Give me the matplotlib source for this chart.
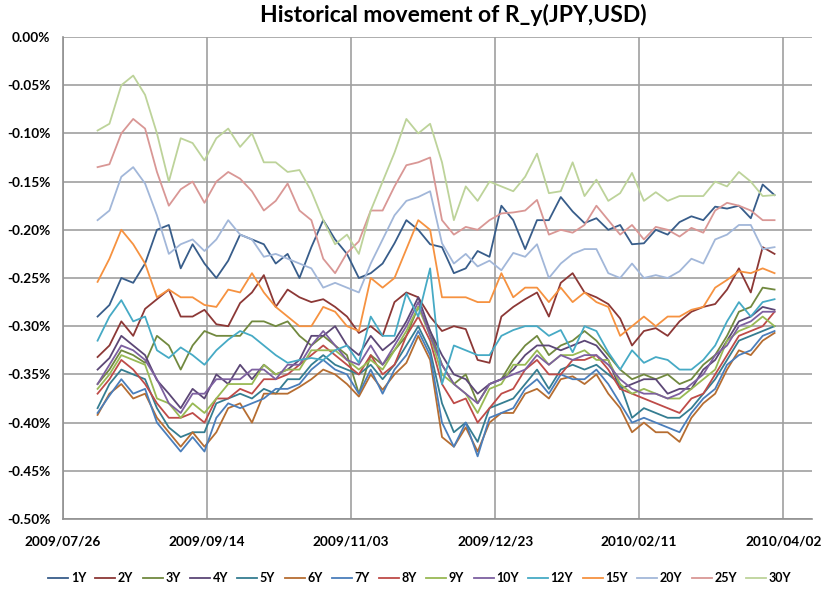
import pandas as pd
import matplotlib
matplotlib.use('Agg')
import matplotlib.pyplot as plt
import matplotlib.dates as mdates
from matplotlib.ticker import FuncFormatter

plt.rcParams['font.family'] = ['Lato', 'DejaVu Sans']
plt.rcParams['font.weight'] = 'bold'

# sampled observations (%), roughly every 4 days from 2009/08/07 to 2010/03/30
start, end = '2009-08-07', '2010-03-30'

y1 = [-0.290, -0.278, -0.250, -0.255, -0.235, -0.200, -0.195, -0.240, -0.215, -0.235,
      -0.250, -0.232, -0.205, -0.210, -0.215, -0.235, -0.225, -0.250, -0.218, -0.190,
      -0.210, -0.225, -0.250, -0.245, -0.235, -0.214, -0.190, -0.200, -0.215, -0.218,
      -0.245, -0.240, -0.222, -0.228, -0.175, -0.190, -0.220, -0.190, -0.190, -0.166,
      -0.181, -0.193, -0.188, -0.200, -0.195, -0.215, -0.214, -0.200, -0.205, -0.192,
      -0.186, -0.190, -0.176, -0.178, -0.175, -0.188, -0.153, -0.164]
y2 = [-0.332, -0.320, -0.295, -0.310, -0.282, -0.272, -0.262, -0.290, -0.290, -0.283,
      -0.298, -0.300, -0.276, -0.265, -0.247, -0.280, -0.262, -0.270, -0.275, -0.272,
      -0.280, -0.290, -0.307, -0.300, -0.310, -0.275, -0.265, -0.270, -0.290, -0.305,
      -0.300, -0.303, -0.335, -0.338, -0.290, -0.280, -0.272, -0.265, -0.290, -0.255,
      -0.245, -0.265, -0.270, -0.277, -0.292, -0.320, -0.305, -0.302, -0.310, -0.295,
      -0.285, -0.280, -0.277, -0.262, -0.240, -0.265, -0.218, -0.225]
y3 = [-0.360, -0.345, -0.325, -0.330, -0.338, -0.310, -0.320, -0.345, -0.320, -0.305,
      -0.310, -0.310, -0.310, -0.295, -0.295, -0.300, -0.295, -0.310, -0.320, -0.310,
      -0.320, -0.330, -0.370, -0.330, -0.340, -0.325, -0.310, -0.280, -0.305, -0.340,
      -0.360, -0.350, -0.380, -0.360, -0.355, -0.335, -0.320, -0.310, -0.330, -0.320,
      -0.315, -0.305, -0.315, -0.330, -0.345, -0.355, -0.350, -0.355, -0.350, -0.360,
      -0.355, -0.340, -0.330, -0.310, -0.285, -0.280, -0.260, -0.262]
y4 = [-0.345, -0.333, -0.310, -0.320, -0.330, -0.356, -0.370, -0.385, -0.365, -0.375,
      -0.350, -0.360, -0.340, -0.355, -0.340, -0.350, -0.345, -0.335, -0.310, -0.310,
      -0.300, -0.320, -0.330, -0.310, -0.325, -0.315, -0.295, -0.270, -0.305, -0.330,
      -0.350, -0.355, -0.370, -0.360, -0.355, -0.345, -0.330, -0.320, -0.320, -0.325,
      -0.320, -0.315, -0.320, -0.335, -0.365, -0.360, -0.355, -0.355, -0.370, -0.365,
      -0.365, -0.345, -0.335, -0.315, -0.295, -0.290, -0.280, -0.283]
y5 = [-0.385, -0.360, -0.345, -0.350, -0.355, -0.385, -0.405, -0.415, -0.410, -0.410,
      -0.380, -0.375, -0.370, -0.375, -0.365, -0.370, -0.355, -0.355, -0.340, -0.330,
      -0.340, -0.345, -0.350, -0.340, -0.355, -0.340, -0.320, -0.300, -0.325, -0.380,
      -0.410, -0.400, -0.420, -0.385, -0.380, -0.375, -0.360, -0.345, -0.365, -0.345,
      -0.340, -0.345, -0.340, -0.350, -0.360, -0.395, -0.385, -0.390, -0.395, -0.395,
      -0.385, -0.370, -0.355, -0.335, -0.315, -0.310, -0.305, -0.300]
y6 = [-0.392, -0.370, -0.360, -0.375, -0.370, -0.395, -0.410, -0.425, -0.410, -0.425,
      -0.410, -0.385, -0.380, -0.400, -0.370, -0.370, -0.370, -0.363, -0.355, -0.345,
      -0.350, -0.360, -0.373, -0.350, -0.366, -0.350, -0.338, -0.310, -0.335, -0.415,
      -0.425, -0.405, -0.430, -0.400, -0.390, -0.390, -0.370, -0.365, -0.375, -0.355,
      -0.352, -0.360, -0.350, -0.370, -0.385, -0.410, -0.400, -0.410, -0.410, -0.420,
      -0.395, -0.380, -0.370, -0.345, -0.325, -0.330, -0.315, -0.307]
y7 = [-0.390, -0.372, -0.355, -0.370, -0.365, -0.400, -0.415, -0.430, -0.415, -0.430,
      -0.395, -0.380, -0.385, -0.380, -0.375, -0.365, -0.365, -0.360, -0.345, -0.335,
      -0.345, -0.350, -0.370, -0.345, -0.370, -0.345, -0.330, -0.305, -0.330, -0.400,
      -0.425, -0.400, -0.435, -0.395, -0.390, -0.385, -0.365, -0.355, -0.370, -0.350,
      -0.355, -0.355, -0.345, -0.360, -0.380, -0.400, -0.395, -0.400, -0.405, -0.410,
      -0.390, -0.375, -0.365, -0.340, -0.330, -0.325, -0.310, -0.305]
y8 = [-0.370, -0.355, -0.335, -0.345, -0.360, -0.380, -0.395, -0.395, -0.390, -0.400,
      -0.375, -0.375, -0.365, -0.370, -0.355, -0.355, -0.350, -0.340, -0.330, -0.320,
      -0.330, -0.340, -0.350, -0.330, -0.350, -0.340, -0.310, -0.290, -0.315, -0.360,
      -0.380, -0.375, -0.400, -0.385, -0.370, -0.365, -0.345, -0.335, -0.350, -0.350,
      -0.335, -0.335, -0.330, -0.345, -0.365, -0.370, -0.375, -0.380, -0.385, -0.390,
      -0.375, -0.370, -0.350, -0.330, -0.310, -0.305, -0.300, -0.285]
y9 = [-0.365, -0.350, -0.330, -0.335, -0.340, -0.375, -0.380, -0.395, -0.380, -0.390,
      -0.375, -0.360, -0.360, -0.360, -0.340, -0.350, -0.345, -0.345, -0.325, -0.325,
      -0.325, -0.335, -0.345, -0.335, -0.345, -0.325, -0.305, -0.280, -0.310, -0.350,
      -0.360, -0.370, -0.390, -0.365, -0.360, -0.340, -0.340, -0.325, -0.340, -0.330,
      -0.330, -0.325, -0.335, -0.335, -0.360, -0.370, -0.365, -0.370, -0.375, -0.375,
      -0.365, -0.355, -0.345, -0.315, -0.305, -0.300, -0.290, -0.300]
y10 = [-0.360, -0.340, -0.320, -0.325, -0.335, -0.355, -0.380, -0.390, -0.370, -0.370,
       -0.355, -0.355, -0.355, -0.345, -0.345, -0.355, -0.340, -0.340, -0.320, -0.305,
       -0.320, -0.335, -0.340, -0.320, -0.340, -0.320, -0.300, -0.275, -0.310, -0.340,
       -0.360, -0.370, -0.380, -0.360, -0.355, -0.350, -0.345, -0.330, -0.340, -0.330,
       -0.335, -0.330, -0.330, -0.340, -0.355, -0.365, -0.370, -0.370, -0.375, -0.370,
       -0.360, -0.350, -0.330, -0.320, -0.300, -0.295, -0.285, -0.285]
y12 = [-0.315, -0.290, -0.273, -0.295, -0.290, -0.325, -0.333, -0.322, -0.330, -0.340,
       -0.325, -0.314, -0.305, -0.310, -0.320, -0.330, -0.338, -0.335, -0.333, -0.335,
       -0.325, -0.320, -0.338, -0.290, -0.310, -0.310, -0.266, -0.290, -0.240, -0.360,
       -0.320, -0.325, -0.330, -0.330, -0.310, -0.304, -0.300, -0.300, -0.310, -0.304,
       -0.327, -0.300, -0.305, -0.327, -0.345, -0.325, -0.338, -0.332, -0.335, -0.345,
       -0.345, -0.335, -0.320, -0.295, -0.275, -0.290, -0.275, -0.272]
y15 = [-0.254, -0.230, -0.200, -0.215, -0.235, -0.270, -0.262, -0.270, -0.270, -0.278,
       -0.280, -0.262, -0.265, -0.245, -0.265, -0.280, -0.290, -0.300, -0.300, -0.280,
       -0.285, -0.300, -0.305, -0.250, -0.260, -0.250, -0.220, -0.190, -0.200, -0.270,
       -0.270, -0.270, -0.275, -0.275, -0.245, -0.270, -0.260, -0.260, -0.275, -0.260,
       -0.275, -0.265, -0.275, -0.280, -0.310, -0.300, -0.290, -0.300, -0.290, -0.290,
       -0.283, -0.280, -0.260, -0.252, -0.243, -0.245, -0.240, -0.245]
y20 = [-0.190, -0.180, -0.145, -0.135, -0.152, -0.185, -0.225, -0.215, -0.210, -0.222,
       -0.210, -0.190, -0.205, -0.210, -0.228, -0.225, -0.230, -0.235, -0.240, -0.260,
       -0.255, -0.260, -0.265, -0.235, -0.210, -0.185, -0.170, -0.166, -0.160, -0.214,
       -0.235, -0.225, -0.238, -0.232, -0.242, -0.224, -0.228, -0.215, -0.250, -0.235,
       -0.225, -0.220, -0.220, -0.245, -0.250, -0.235, -0.250, -0.247, -0.250, -0.243,
       -0.230, -0.235, -0.210, -0.205, -0.195, -0.195, -0.220, -0.218]
y25 = [-0.135, -0.132, -0.100, -0.085, -0.095, -0.140, -0.175, -0.158, -0.150, -0.172,
       -0.150, -0.140, -0.147, -0.160, -0.180, -0.170, -0.152, -0.180, -0.190, -0.230,
       -0.245, -0.224, -0.212, -0.180, -0.180, -0.155, -0.133, -0.130, -0.125, -0.190,
       -0.205, -0.197, -0.200, -0.190, -0.183, -0.182, -0.180, -0.169, -0.205, -0.200,
       -0.203, -0.195, -0.175, -0.190, -0.205, -0.195, -0.210, -0.197, -0.200, -0.207,
       -0.198, -0.203, -0.180, -0.172, -0.175, -0.180, -0.190, -0.190]
y30 = [-0.097, -0.090, -0.050, -0.040, -0.060, -0.100, -0.150, -0.105, -0.110, -0.128,
       -0.105, -0.095, -0.114, -0.100, -0.130, -0.130, -0.140, -0.138, -0.160, -0.190,
       -0.215, -0.205, -0.225, -0.180, -0.150, -0.120, -0.085, -0.100, -0.090, -0.130,
       -0.190, -0.155, -0.170, -0.150, -0.155, -0.160, -0.145, -0.121, -0.162, -0.160,
       -0.130, -0.165, -0.148, -0.170, -0.162, -0.141, -0.170, -0.161, -0.170, -0.165,
       -0.165, -0.165, -0.150, -0.155, -0.140, -0.150, -0.165, -0.164]

labels = ['1Y', '2Y', '3Y', '4Y', '5Y', '6Y', '7Y', '8Y', '9Y', '10Y', '12Y', '15Y', '20Y', '25Y', '30Y']
series = [y1, y2, y3, y4, y5, y6, y7, y8, y9, y10, y12, y15, y20, y25, y30]
colors = ['#385D8A', '#8C3836', '#71893F', '#5C4776', '#357D91', '#B66D31', '#4A7EBB', '#BE4B48',
          '#98B954', '#7D60A0', '#46AAC5', '#F69240', '#A2B7D9', '#D99795', '#BDD39A']

dates = pd.date_range(start, end, periods=len(y1))

fig = plt.figure(figsize=(8.23, 5.91), dpi=100)
ax = fig.add_axes([63/823, 1-519/591, (812-63)/823, (519-37)/591])

for vals, lab, c in zip(series, labels, colors):
    ax.plot(dates, vals, color=c, lw=1.3, label=lab)

xt = pd.date_range('2009-07-26', periods=6, freq='50D')
ax.set_xticks(xt)
ax.xaxis.set_major_formatter(mdates.DateFormatter('%Y/%m/%d'))
ax.set_xlim(pd.Timestamp('2009-07-26'), pd.Timestamp('2010-04-12'))
ax.set_ylim(-0.5, 0)
ax.set_yticks([-0.5 + 0.05*k for k in range(11)])
ax.yaxis.set_major_formatter(FuncFormatter(lambda v, p: '%.2f%%' % (0 if abs(v) < 1e-9 else v)))
ax.tick_params(length=0, labelsize=9.8)
ax.tick_params(axis='y', pad=9)
ax.tick_params(axis='x', pad=12)
ax.grid(True, color='#A0A0A0', lw=1.2)
ax.set_axisbelow(True)
for s in ['top', 'right']:
    ax.spines[s].set_visible(False)
for s in ['left', 'bottom']:
    ax.spines[s].set_color('#909090')
    ax.spines[s].set_linewidth(1.2)

fig.text(0.551, 0.975, 'Historical movement of R_y(JPY,USD)', ha='center', va='center',
         fontsize=16.5, fontweight='bold')
fig.legend(loc='center', bbox_to_anchor=(0.51, 0.022), ncol=15, frameon=False,
           fontsize=9, handlelength=1.6, handletextpad=0.2, columnspacing=0.75)

fig.savefig('out.png', dpi=100)
